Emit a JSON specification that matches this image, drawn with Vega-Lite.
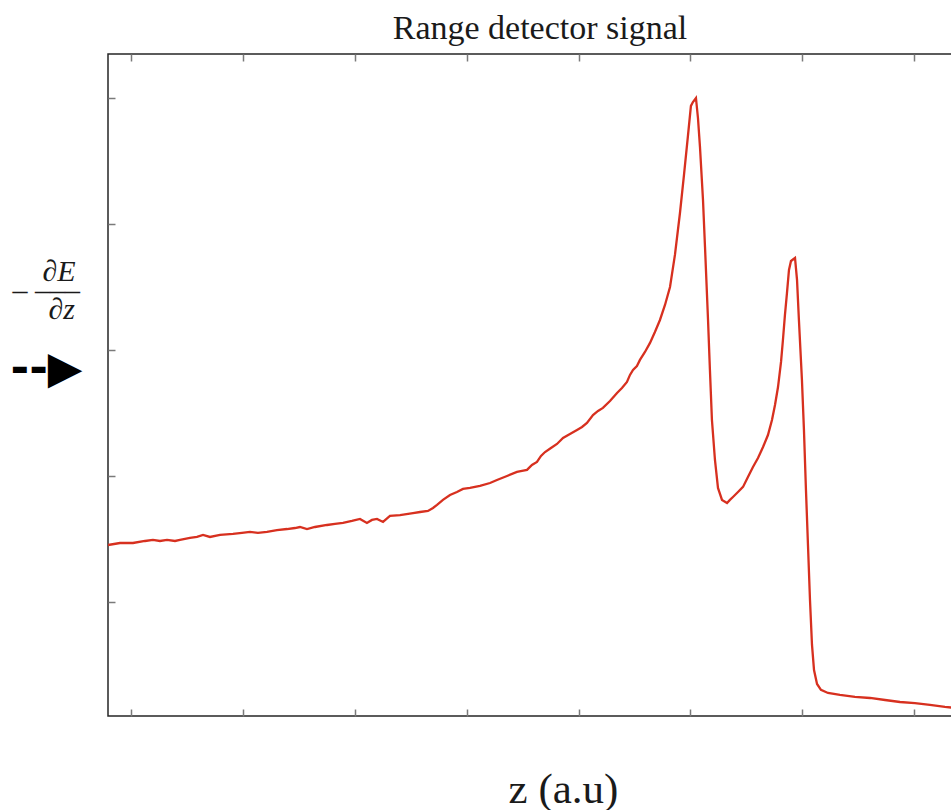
{
  "$schema": "https://vega.github.io/schema/vega-lite/v6.json",
  "width": 848,
  "height": 662,
  "autosize": {"type": "none"},
  "padding": {"left": 108, "top": 54, "right": 0, "bottom": 94},
  "background": "white",
  "title": {
    "text": "Range detector signal",
    "font": "Liberation Serif",
    "fontSize": 34,
    "fontWeight": "normal",
    "color": "#1a1a1a",
    "anchor": "middle",
    "frame": "group",
    "dx": 8,
    "dy": 34,
    "offset": 14,
    "baseline": "alphabetic"
  },
  "config": {
    "view": {"stroke": "#262626", "strokeWidth": 1.5},
    "axis": {
      "grid": false,
      "labels": false,
      "domain": false,
      "ticks": true,
      "tickSize": -7,
      "tickColor": "#7a7a7a",
      "tickWidth": 1.5
    }
  },
  "data": {
    "values": [
      {"z": 0.790, "signal": 1.452}, {"z": 0.897, "signal": 1.468}, {"z": 1.013, "signal": 1.468},
      {"z": 1.121, "signal": 1.484}, {"z": 1.192, "signal": 1.492}, {"z": 1.255, "signal": 1.484},
      {"z": 1.318, "signal": 1.492}, {"z": 1.389, "signal": 1.484}, {"z": 1.434, "signal": 1.492},
      {"z": 1.523, "signal": 1.508}, {"z": 1.586, "signal": 1.516}, {"z": 1.640, "signal": 1.532},
      {"z": 1.702, "signal": 1.516}, {"z": 1.792, "signal": 1.532}, {"z": 1.908, "signal": 1.540},
      {"z": 1.988, "signal": 1.548}, {"z": 2.060, "signal": 1.556}, {"z": 2.131, "signal": 1.548},
      {"z": 2.212, "signal": 1.556}, {"z": 2.301, "signal": 1.571}, {"z": 2.391, "signal": 1.579},
      {"z": 2.462, "signal": 1.587}, {"z": 2.507, "signal": 1.595}, {"z": 2.570, "signal": 1.579},
      {"z": 2.641, "signal": 1.595}, {"z": 2.749, "signal": 1.611}, {"z": 2.820, "signal": 1.619},
      {"z": 2.892, "signal": 1.627}, {"z": 2.972, "signal": 1.643}, {"z": 3.044, "signal": 1.659},
      {"z": 3.106, "signal": 1.627}, {"z": 3.151, "signal": 1.651}, {"z": 3.196, "signal": 1.659},
      {"z": 3.250, "signal": 1.635}, {"z": 3.312, "signal": 1.683}, {"z": 3.402, "signal": 1.690},
      {"z": 3.518, "signal": 1.706}, {"z": 3.581, "signal": 1.714}, {"z": 3.652, "signal": 1.722},
      {"z": 3.697, "signal": 1.746}, {"z": 3.733, "signal": 1.770}, {"z": 3.786, "signal": 1.810},
      {"z": 3.849, "signal": 1.849}, {"z": 3.911, "signal": 1.873}, {"z": 3.965, "signal": 1.897},
      {"z": 4.028, "signal": 1.905}, {"z": 4.117, "signal": 1.921}, {"z": 4.207, "signal": 1.944},
      {"z": 4.269, "signal": 1.968}, {"z": 4.359, "signal": 2.000}, {"z": 4.448, "signal": 2.032},
      {"z": 4.493, "signal": 2.040}, {"z": 4.538, "signal": 2.048}, {"z": 4.582, "signal": 2.087},
      {"z": 4.627, "signal": 2.111}, {"z": 4.663, "signal": 2.159}, {"z": 4.699, "signal": 2.190},
      {"z": 4.752, "signal": 2.222}, {"z": 4.806, "signal": 2.254}, {"z": 4.860, "signal": 2.302},
      {"z": 4.922, "signal": 2.333}, {"z": 4.985, "signal": 2.365}, {"z": 5.030, "signal": 2.389},
      {"z": 5.074, "signal": 2.421}, {"z": 5.128, "signal": 2.484}, {"z": 5.173, "signal": 2.516},
      {"z": 5.217, "signal": 2.540}, {"z": 5.280, "signal": 2.595}, {"z": 5.343, "signal": 2.659},
      {"z": 5.387, "signal": 2.698}, {"z": 5.432, "signal": 2.746}, {"z": 5.459, "signal": 2.802},
      {"z": 5.486, "signal": 2.841}, {"z": 5.521, "signal": 2.873}, {"z": 5.548, "signal": 2.921},
      {"z": 5.593, "signal": 2.984}, {"z": 5.638, "signal": 3.056}, {"z": 5.682, "signal": 3.143},
      {"z": 5.727, "signal": 3.238}, {"z": 5.772, "signal": 3.357}, {"z": 5.817, "signal": 3.500},
      {"z": 5.861, "signal": 3.754}, {"z": 5.906, "signal": 4.087}, {"z": 5.942, "signal": 4.389},
      {"z": 5.978, "signal": 4.706}, {"z": 6.004, "signal": 4.937}, {"z": 6.022, "signal": 4.968},
      {"z": 6.049, "signal": 5.000}, {"z": 6.067, "signal": 4.841}, {"z": 6.085, "signal": 4.611},
      {"z": 6.112, "signal": 4.190}, {"z": 6.130, "signal": 3.817}, {"z": 6.157, "signal": 3.238},
      {"z": 6.174, "signal": 2.841}, {"z": 6.192, "signal": 2.444}, {"z": 6.219, "signal": 2.127},
      {"z": 6.246, "signal": 1.905}, {"z": 6.282, "signal": 1.810}, {"z": 6.327, "signal": 1.786},
      {"z": 6.353, "signal": 1.810}, {"z": 6.380, "signal": 1.833}, {"z": 6.425, "signal": 1.873},
      {"z": 6.470, "signal": 1.913}, {"z": 6.514, "signal": 1.992}, {"z": 6.559, "signal": 2.071},
      {"z": 6.604, "signal": 2.143}, {"z": 6.649, "signal": 2.230}, {"z": 6.693, "signal": 2.325},
      {"z": 6.729, "signal": 2.444}, {"z": 6.756, "signal": 2.563}, {"z": 6.783, "signal": 2.706},
      {"z": 6.810, "signal": 2.905}, {"z": 6.827, "signal": 3.079}, {"z": 6.845, "signal": 3.278},
      {"z": 6.863, "signal": 3.452}, {"z": 6.881, "signal": 3.635}, {"z": 6.899, "signal": 3.706},
      {"z": 6.935, "signal": 3.730}, {"z": 6.953, "signal": 3.556}, {"z": 6.970, "signal": 3.238},
      {"z": 6.997, "signal": 2.762}, {"z": 7.015, "signal": 2.365}, {"z": 7.033, "signal": 1.889},
      {"z": 7.051, "signal": 1.452}, {"z": 7.069, "signal": 1.016}, {"z": 7.087, "signal": 0.659},
      {"z": 7.105, "signal": 0.460}, {"z": 7.132, "signal": 0.349}, {"z": 7.167, "signal": 0.302},
      {"z": 7.230, "signal": 0.278}, {"z": 7.337, "signal": 0.262}, {"z": 7.471, "signal": 0.246},
      {"z": 7.606, "signal": 0.238}, {"z": 7.740, "signal": 0.222}, {"z": 7.874, "signal": 0.206},
      {"z": 8.008, "signal": 0.198}, {"z": 8.142, "signal": 0.183}, {"z": 8.276, "signal": 0.167},
      {"z": 8.375, "signal": 0.159}
    ]
  },
  "layer": [
    {
      "mark": {"type": "line", "color": "#d7301f", "strokeWidth": 2.3, "clip": true},
      "encoding": {
        "x": {
          "field": "z",
          "type": "quantitative",
          "scale": {"domain": [0.79, 8.375], "nice": false, "zero": false},
          "axis": {
            "orient": "bottom",
            "values": [1, 2, 3, 4, 5, 6, 7, 8],
            "title": "z (a.u)",
            "titleFont": "Liberation Serif",
            "titleFontSize": 43,
            "titleFontWeight": "normal",
            "titleColor": "#1a1a1a",
            "titleAlign": "center",
            "titleBaseline": "alphabetic",
            "titleX": 455,
            "titleY": 86
          }
        },
        "y": {
          "field": "signal",
          "type": "quantitative",
          "scale": {"domain": [0.095, 5.349], "nice": false, "zero": false},
          "axis": {
            "orient": "left",
            "values": [1, 2, 3, 4, 5],
            "title": ["\u200b\u00a0\u00a0\u00a0\u00a0∂E", "–\u00a0–––", "\u200b\u00a0\u00a0\u00a0\u00a0\u2009∂z"],
            "titleFont": "Liberation Serif",
            "titleFontSize": 30,
            "titleFontStyle": "italic",
            "titleFontWeight": "normal",
            "titleColor": "#1a1a1a",
            "titleAngle": 0,
            "titleAlign": "left",
            "titleBaseline": "alphabetic",
            "titleLineHeight": 19,
            "titleX": -96,
            "titleY": 226
          }
        }
      }
    },
    {
      "mark": {"type": "line", "strokeOpacity": 0},
      "encoding": {
        "x": {
          "field": "z",
          "type": "quantitative",
          "axis": {
            "orient": "top",
            "values": [1, 2, 3, 4, 5, 6, 7, 8],
            "title": "--▶",
            "titleFont": "DejaVu Sans",
            "titleFontSize": 45,
            "titleFontWeight": "bold",
            "titleColor": "#000000",
            "titleAlign": "left",
            "titleBaseline": "middle",
            "titleX": -98,
            "titleY": 314
          }
        },
        "y": {"field": "signal", "type": "quantitative"}
      }
    }
  ],
  "resolve": {"axis": {"x": "independent"}}
}
